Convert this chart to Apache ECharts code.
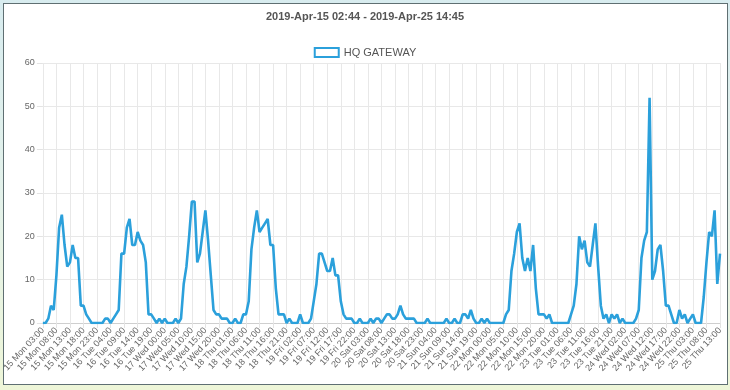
<!DOCTYPE html>
<html>
<head>
<meta charset="utf-8">
<script src="https://cdn.jsdelivr.net/npm/echarts@6/dist/echarts.min.js"></script>
<style>
  html, body { margin: 0; padding: 0; }
  body { width: 730px; height: 390px; background: linear-gradient(#d8ecef 0%, #e3f1ea 50%, #eef6d8 100%); position: relative; overflow: hidden; }
  #panel { position: absolute; left: 3px; top: 3px; width: 723px; height: 380px; background: #fff; border: 1px solid #5f6f72; }
  #chart { position: absolute; left: 0; top: 0; width: 730px; height: 390px; }
</style>
</head>
<body>
<div id="panel"></div>
<div id="chart"></div>
<script>
// Title and series name
const titleText = "2019-Apr-15 02:44 - 2019-Apr-25 14:45";
const seriesName = "HQ GATEWAY";

// Hourly categories from 15 Mon 03:00 to 25 Thu 13:00 (tick labels)
const dayNames = ["Sun", "Mon", "Tue", "Wed", "Thu", "Fri", "Sat"];
const categories = [];
for (let h = 0; h <= 250; h++) {
  const d = new Date(Date.UTC(2019, 3, 15, 3 + h));
  const hh = String(d.getUTCHours()).padStart(2, "0");
  categories.push(d.getUTCDate() + " " + dayNames[d.getUTCDay()] + " " + hh + ":00");
}

// Values (one per hour)
const values = [
  0,0,1,4,3,11,22,25,18,13,
  14,18,15,15,4,4,2,1,0,0,
  0,0,0,1,1,0,1,2,3,16,
  16,22,24,18,18,21,19,18,14,2,
  2,1,0,1,0,1,0,0,0,1,
  0,1,9,13,20,28,28,14,16,21,
  26,19,11,3,2,2,1,1,1,0,
  0,1,0,0,2,2,5,17,22,26,
  21,22,23,24,18,18,8,2,2,2,
  0,1,0,0,0,2,0,0,0,1,
  5,9,16,16,14,12,12,15,11,11,
  5,2,1,1,1,0,0,1,0,0,
  0,1,0,1,1,0,1,2,2,1,
  1,2,4,2,1,1,1,1,0,0,
  0,0,1,0,0,0,0,0,0,1,
  0,0,1,0,0,2,2,1,3,1,
  0,0,1,0,1,0,0,0,0,0,
  0,2,3,12,16,21,23,15,12,15,
  12,18,8,2,2,2,1,2,0,0,
  0,0,0,0,0,2,4,9,20,17,
  19,14,13,18,23,13,4,1,2,0,
  2,1,2,0,1,0,0,0,0,1,
  3,15,19,21,52,10,12,17,18,12,
  4,4,2,0,0,3,1,2,0,1,
  2,0,0,0,6,14,21,20,26,9,
  16
];

const yMin = 0, yMax = 60, yStep = 10;
const lineColor = "#2ba0db";

const chart = echarts.init(document.getElementById("chart"), null, { renderer: "canvas" });
chart.setOption({
  backgroundColor: "transparent",
  animation: false,
  title: {
    text: titleText,
    left: "center",
    top: 6,
    textStyle: { fontFamily: "Liberation Sans", fontSize: 11, fontWeight: "bold", color: "#555" }
  },
  legend: {
    top: 42,
    left: "center",
    icon: "rect",
    itemWidth: 24,
    itemHeight: 9,
    itemGap: 8,
    data: [{ name: seriesName, itemStyle: { color: "#fff", borderColor: lineColor, borderWidth: 2 } }],
    textStyle: { fontFamily: "Liberation Sans", fontSize: 11, color: "#555" }
  },
  grid: { left: 36, right: 10, top: 63, bottom: 67, containLabel: false },
  xAxis: {
    type: "category",
    data: categories,
    boundaryGap: false,
    axisLine: { show: true, lineStyle: { color: "#cfcfcf", width: 1 } },
    axisTick: { show: true, interval: 4, length: 5, lineStyle: { color: "#e3e3e3" } },
    axisLabel: {
      interval: 4,
      rotate: 47,
      margin: 6,
      fontFamily: "Liberation Sans",
      fontSize: 9,
      color: "#666"
    },
    splitLine: { show: true, interval: 4, lineStyle: { color: "#e8e8e8", width: 1 } }
  },
  yAxis: {
    type: "value",
    min: yMin,
    max: yMax,
    interval: yStep,
    axisLine: { show: false },
    axisTick: { show: true, length: 6, lineStyle: { color: "#e3e3e3" } },
    axisLabel: { margin: 8, fontFamily: "Liberation Sans", fontSize: 9, color: "#666" },
    splitLine: { show: true, lineStyle: { color: "#e8e8e8", width: 1 } }
  },
  series: [{
    name: seriesName,
    type: "line",
    data: values,
    showSymbol: false,
    symbol: "none",
    smooth: false,
    lineStyle: { color: lineColor, width: 2.6 },
    itemStyle: { color: lineColor }
  }]
});
</script>
</body>
</html>
